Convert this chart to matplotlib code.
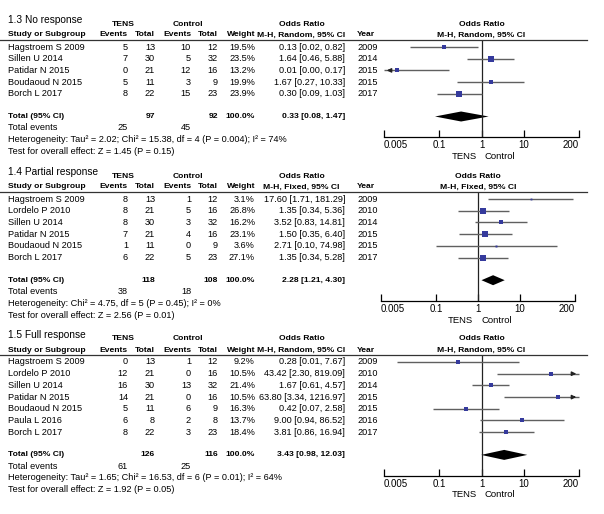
import matplotlib
matplotlib.use('Agg')
import matplotlib.pyplot as plt
from matplotlib.lines import Line2D

W, H = 604, 514
plt.rcParams['font.family'] = ['Liberation Sans', 'DejaVu Sans']

# ---- data ----
p1_title = '1.3 No response'
p1_method = 'M-H, Random, 95% CI'
p1_studies = ['Hagstroem S 2009', 'Sillen U 2014', 'Patidar N 2015', 'Boudaoud N 2015', 'Borch L 2017']
p1_tens_ev = [5, 7, 0, 5, 8]
p1_tens_n = [13, 30, 21, 11, 22]
p1_ctrl_ev = [10, 5, 12, 3, 15]
p1_ctrl_n = [12, 32, 16, 9, 23]
p1_weight = [19.5, 23.5, 13.2, 19.9, 23.9]
p1_or = [0.13, 1.64, 0.01, 1.67, 0.30]
p1_lo = [0.02, 0.46, 0.00, 0.27, 0.09]
p1_hi = [0.82, 5.88, 0.17, 10.33, 1.03]
p1_year = [2009, 2014, 2015, 2015, 2017]
p1_total = (97, 92, 0.33, 0.08, 1.47)
p1_events = (25, 45)
p1_het = 'Heterogeneity: Tau² = 2.02; Chi² = 15.38, df = 4 (P = 0.004); I² = 74%'
p1_test = 'Test for overall effect: Z = 1.45 (P = 0.15)'

p2_title = '1.4 Partial response'
p2_method = 'M-H, Fixed, 95% CI'
p2_studies = ['Hagstroem S 2009', 'Lordelo P 2010', 'Sillen U 2014', 'Patidar N 2015', 'Boudaoud N 2015', 'Borch L 2017']
p2_tens_ev = [8, 8, 8, 7, 1, 6]
p2_tens_n = [13, 21, 30, 21, 11, 22]
p2_ctrl_ev = [1, 5, 3, 4, 0, 5]
p2_ctrl_n = [12, 16, 32, 16, 9, 23]
p2_weight = [3.1, 26.8, 16.2, 23.1, 3.6, 27.1]
p2_or = [17.60, 1.35, 3.52, 1.50, 2.71, 1.35]
p2_lo = [1.71, 0.34, 0.83, 0.35, 0.10, 0.34]
p2_hi = [181.29, 5.36, 14.81, 6.40, 74.98, 5.28]
p2_year = [2009, 2010, 2014, 2015, 2015, 2017]
p2_total = (118, 108, 2.28, 1.21, 4.30)
p2_events = (38, 18)
p2_het = 'Heterogeneity: Chi² = 4.75, df = 5 (P = 0.45); I² = 0%'
p2_test = 'Test for overall effect: Z = 2.56 (P = 0.01)'

p3_title = '1.5 Full response'
p3_method = 'M-H, Random, 95% CI'
p3_studies = ['Hagstroem S 2009', 'Lordelo P 2010', 'Sillen U 2014', 'Patidar N 2015', 'Boudaoud N 2015', 'Paula L 2016', 'Borch L 2017']
p3_tens_ev = [0, 12, 16, 14, 5, 6, 8]
p3_tens_n = [13, 21, 30, 21, 11, 8, 22]
p3_ctrl_ev = [1, 0, 13, 0, 6, 2, 3]
p3_ctrl_n = [12, 16, 32, 16, 9, 8, 23]
p3_weight = [9.2, 10.5, 21.4, 10.5, 16.3, 13.7, 18.4]
p3_or = [0.28, 43.42, 1.67, 63.80, 0.42, 9.00, 3.81]
p3_lo = [0.01, 2.30, 0.61, 3.34, 0.07, 0.94, 0.86]
p3_hi = [7.67, 819.09, 4.57, 1216.97, 2.58, 86.52, 16.94]
p3_year = [2009, 2010, 2014, 2015, 2015, 2016, 2017]
p3_total = (126, 116, 3.43, 0.98, 12.03)
p3_events = (61, 25)
p3_het = 'Heterogeneity: Tau² = 1.65; Chi² = 16.53, df = 6 (P = 0.01); I² = 64%'
p3_test = 'Test for overall effect: Z = 1.92 (P = 0.05)'

xticks = [0.005, 0.1, 1, 10, 200]
xtick_labels = ['0.005', '0.1', '1', '10', '200']

FS = 6.6      # regular text
FB = 6.1      # bold headers
SQ = '#353a9c'
CI = '#606060'

fig = plt.figure(figsize=(W / 100, H / 100), dpi=100)


def tx(x, y, s, ha='left', bold=False, size=None, **kw):
    if size is None:
        size = FB if bold else FS
    fig.text(x / W, 1 - y / H, s, ha=ha, va='center', fontsize=size,
             fontweight='bold' if bold else 'normal', **kw)


def panel(top, title, method, studies, tev, tn, cev, cn, wt, orv, lo, hi, yr,
          total, events, het, test, x0, x1):
    # layout in pixels
    y_title = top + 12
    y_grp = top + 16
    y_head = top + 27
    y_line = top + 32
    y_row0 = top + 39
    step = 11.7
    n = len(studies)
    y_tot = y_row0 + step * n + 11
    y_axis = y_tot + 21
    xc = x0 + (x1 - x0) * 0.5

    tx(8, y_title, title, size=7.3)
    tx(123, y_grp, 'TENS', ha='center', bold=True)
    tx(188, y_grp, 'Control', ha='center', bold=True)
    tx(302, y_grp, 'Odds Ratio', ha='center', bold=True)
    tx(xc, y_grp, 'Odds Ratio', ha='center', bold=True)
    tx(8, y_head, 'Study or Subgroup', bold=True)
    for x, s in [(128, 'Events'), (155, 'Total'), (191, 'Events'), (218, 'Total'), (255, 'Weight')]:
        tx(x, y_head, s, ha='right', bold=True)
    tx(301, y_head, method, ha='center', bold=True)
    tx(357, y_head, 'Year', bold=True)
    tx(xc, y_head, method, ha='center', bold=True)
    fig.add_artist(Line2D([0, 587 / W], [1 - y_line / H] * 2, color='#333333', lw=0.9))

    for i in range(n):
        y = y_row0 + step * i
        tx(8, y, studies[i])
        tx(128, y, str(tev[i]), ha='right')
        tx(155, y, str(tn[i]), ha='right')
        tx(191, y, str(cev[i]), ha='right')
        tx(218, y, str(cn[i]), ha='right')
        tx(255, y, f'{wt[i]:.1f}%', ha='right')
        tx(345, y, f'{orv[i]:.2f} [{lo[i]:.2f}, {hi[i]:.2f}]', ha='right')
        tx(357, y, str(yr[i]))

    tn_tot, cn_tot, t_or, t_lo, t_hi = total
    tx(8, y_tot, 'Total (95% CI)', bold=True)
    tx(155, y_tot, str(tn_tot), ha='right', bold=True)
    tx(218, y_tot, str(cn_tot), ha='right', bold=True)
    tx(255, y_tot, '100.0%', ha='right', bold=True)
    tx(345, y_tot, f'{t_or:.2f} [{t_lo:.2f}, {t_hi:.2f}]', ha='right', bold=True)
    tx(8, y_tot + 11.5, 'Total events')
    tx(128, y_tot + 11.5, str(events[0]), ha='right')
    tx(191, y_tot + 11.5, str(events[1]), ha='right')
    tx(8, y_tot + 23, het)
    tx(8, y_tot + 35, test)

    # forest axes, y in pixel units
    ax = fig.add_axes([x0 / W, 1 - y_axis / H, (x1 - x0) / W, (y_axis - y_line) / H])
    ax.set_xscale('log')
    ax.set_xlim(xticks[0], xticks[-1])
    ax.set_ylim(y_axis, y_line)
    ax.patch.set_alpha(0)
    for s in ['top', 'left', 'right']:
        ax.spines[s].set_visible(False)
    ax.spines['bottom'].set_linewidth(0.9)
    ax.set_yticks([])
    ax.set_xticks(xticks)
    ax.set_xticklabels(xtick_labels)
    ax.minorticks_off()
    ax.tick_params(axis='x', direction='in', length=5, width=0.9, labelsize=FS + 0.4, pad=2)
    labels = ax.get_xticklabels()
    labels[0].set_horizontalalignment('left')
    labels[-1].set_horizontalalignment('right')
    ax.axvline(1, color='#222222', lw=0.9)
    lim_lo, lim_hi = xticks[0], xticks[-1]
    for i in range(n):
        y = y_row0 + step * i
        a = max(lo[i], lim_lo)
        b = min(hi[i], lim_hi)
        ax.plot([a, b], [y, y], color=CI, lw=1.0, solid_capstyle='butt', clip_on=False)
        if lo[i] < lim_lo:
            ax.annotate('', xy=(lim_lo, y), xytext=(lim_lo * 1.6, y),
                        arrowprops=dict(arrowstyle='-|>', color='#222222', lw=1, mutation_scale=6))
        if hi[i] > lim_hi:
            ax.annotate('', xy=(lim_hi, y), xytext=(lim_hi / 1.6, y),
                        arrowprops=dict(arrowstyle='-|>', color='#222222', lw=1, mutation_scale=6))
        ax.plot(orv[i], y, marker='s', ms=0.75 * wt[i] ** 0.5, color=SQ, mec=SQ, mew=0)
    ax.fill([t_lo, t_or, t_hi, t_or], [y_tot, y_tot - 5, y_tot, y_tot + 5],
            color='black', lw=0)
    tx(xc - 5, y_axis + 19, 'TENS', ha='right', size=FS + 0.2)
    tx(xc + 3, y_axis + 19, 'Control', size=FS + 0.2)


panel(8, p1_title, p1_method, p1_studies, p1_tens_ev, p1_tens_n, p1_ctrl_ev, p1_ctrl_n,
      p1_weight, p1_or, p1_lo, p1_hi, p1_year, p1_total, p1_events, p1_het, p1_test, 384, 579)
panel(160, p2_title, p2_method, p2_studies, p2_tens_ev, p2_tens_n, p2_ctrl_ev, p2_ctrl_n,
      p2_weight, p2_or, p2_lo, p2_hi, p2_year, p2_total, p2_events, p2_het, p2_test, 381, 575)
panel(323, p3_title, p3_method, p3_studies, p3_tens_ev, p3_tens_n, p3_ctrl_ev, p3_ctrl_n,
      p3_weight, p3_or, p3_lo, p3_hi, p3_year, p3_total, p3_events, p3_het, p3_test, 384, 579)

fig.savefig('out.png', dpi=100, facecolor='white')
